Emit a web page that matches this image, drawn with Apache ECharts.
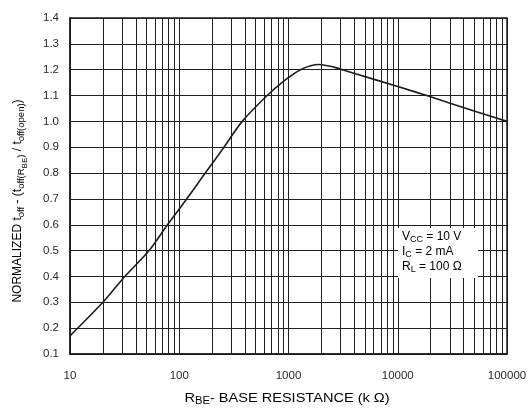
<!DOCTYPE html>
<html>
<head>
<meta charset="utf-8">
<script src="https://cdn.jsdelivr.net/npm/echarts@6/dist/echarts.min.js"></script>
<style>
  html, body { margin: 0; padding: 0; background: #ffffff; }
  #chart { width: 531px; height: 412px; }
</style>
</head>
<body>
<div id="chart"></div>
<script>
// Base resistance R_BE (k ohm) and the normalized turn-off time
const resistance = [10, 20, 31, 53, 78, 117, 173, 247, 377, 638, 900, 1288, 1900, 2600, 3700, 10000, 20000, 50000, 100000];
const normalized = [0.17, 0.30, 0.395, 0.50, 0.60, 0.70, 0.80, 0.89, 1.00, 1.10, 1.155, 1.20, 1.22, 1.21, 1.19, 1.135, 1.095, 1.04, 1.00];

// Axis ranges and tick labels
const xMin = 10, xMax = 100000;
const yMin = 0.1, yMax = 1.4, yStep = 0.1;
const decades = [10, 100, 1000, 10000];
const minorSteps = [2, 3, 4, 5, 6, 7, 8, 9];

// Axis titles, split into normal / subscript / sub-subscript pieces
const xTitle = '{n|R}{s|BE}{n|- BASE RESISTANCE (k Ω)}';
const yTitle = '{n|NORMALIZED t}{s|off}{n| - (t}{s|off(R}{ss|BE}{s|)}{n| / t}{s|off(open)}{n|)}';

// Test conditions shown in the box
const conditions = [
  ['V', 'CC', ' = 10 V'],
  ['I', 'C', ' = 2 mA'],
  ['R', 'L', ' = 100 Ω']
];

const ink = '#1e1e1e';
const textInk = '#2a2a2a';
const font = '"Liberation Sans", Arial, Helvetica, sans-serif';

// Intermediate log-decade grid lines (2..9 within each decade)
const minorLines = [];
decades.forEach(d => minorSteps.forEach(m => minorLines.push({ xAxis: d * m })));

const titleRich = {
  n: { fontSize: 12, fontFamily: font, color: textInk },
  s: { fontSize: 9.5, fontFamily: font, color: textInk, padding: [7, 0, 0, 0] },
  ss: { fontSize: 8, fontFamily: font, color: textInk, padding: [13, 0, 0, 0] }
};

const chart = echarts.init(document.getElementById('chart'), null, { renderer: 'canvas' });

chart.setOption({
  animation: false,
  backgroundColor: '#ffffff',
  grid: {
    left: 70, top: 18, width: 437, height: 336,
    show: true, borderColor: ink, borderWidth: 1.5, backgroundColor: 'transparent'
  },
  xAxis: {
    type: 'log',
    logBase: 10,
    min: xMin,
    max: xMax,
    axisLine: { show: true, lineStyle: { color: ink, width: 1.5 } },
    axisTick: { show: false },
    axisLabel: {
      color: textInk, fontSize: 11.5, fontFamily: font, margin: 16,
      formatter: v => String(v)
    },
    splitLine: { show: true, lineStyle: { color: ink, width: 1 } }
  },
  yAxis: {
    type: 'value',
    min: yMin,
    max: yMax,
    interval: yStep,
    axisLine: { show: true, lineStyle: { color: ink, width: 1.5 } },
    axisTick: { show: false },
    axisLabel: {
      color: textInk, fontSize: 11.5, fontFamily: font, margin: 11,
      formatter: v => v.toFixed(1)
    },
    splitLine: { show: true, lineStyle: { color: ink, width: 1 } }
  },
  series: [{
    type: 'line',
    data: resistance.map((r, i) => [r, normalized[i]]),
    smooth: 0.3,
    showSymbol: false,
    lineStyle: { color: ink, width: 1.6 },
    z: 5,
    markLine: {
      silent: true,
      symbol: 'none',
      label: { show: false },
      lineStyle: { color: ink, width: 1, type: 'solid' },
      data: minorLines
    }
  }],
  graphic: [{
    // x-axis title
    type: 'text',
    x: 287,
    y: 398,
    scaleX: 1.12,
    z: 100,
    style: {
      text: xTitle,
      rich: {
        n: { fontSize: 13, fontFamily: font, color: textInk },
        s: { fontSize: 10, fontFamily: font, color: textInk, padding: [7, 0, 0, 0] }
      },
      align: 'center',
      verticalAlign: 'middle'
    }
  }, {
    // y-axis title
    type: 'text',
    x: 18,
    y: 201,
    rotation: Math.PI / 2,
    z: 100,
    style: {
      text: yTitle,
      rich: titleRich,
      align: 'center',
      verticalAlign: 'middle'
    }
  }, {
    type: 'rect',
    left: 398,
    top: 228,
    z: 100,
    shape: { x: 0, y: 0, width: 80, height: 50 },
    style: { fill: '#ffffff' }
  }, {
    type: 'text',
    left: 402,
    top: 229,
    z: 101,
    style: {
      text: conditions.map(c => `{n|${c[0]}}{s|${c[1]}}{n|${c[2]}}`).join('\n'),
      rich: {
        n: { fontSize: 12, fontFamily: font, color: textInk, lineHeight: 15 },
        s: { fontSize: 9, fontFamily: font, color: textInk, padding: [6, 0, 0, 0], lineHeight: 15 }
      },
      align: 'center'
    }
  }]
});
</script>
</body>
</html>
